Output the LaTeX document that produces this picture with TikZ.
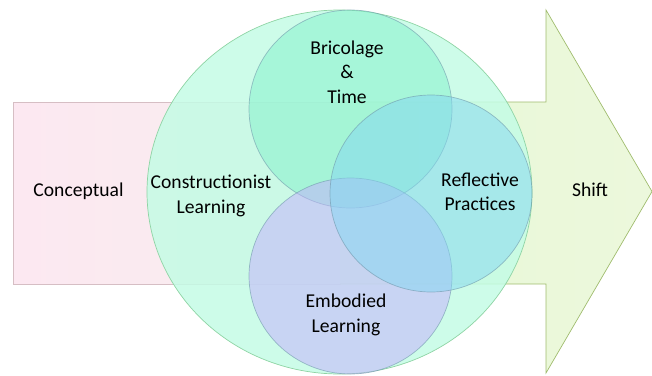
\documentclass[tikz,border=0pt]{standalone}
\usepackage{fontspec}
\setmainfont{Carlito}
\begin{document}
\definecolor{pinkL}{RGB}{252,232,241}
\definecolor{pinkR}{RGB}{247,238,238}
\definecolor{pinkEdge}{RGB}{214,190,196}
\definecolor{greenL}{RGB}{232,248,214}
\definecolor{greenR}{RGB}{236,248,220}
\definecolor{greenEdge}{RGB}{160,188,110}
\definecolor{bigFill}{RGB}{196,252,229}
\definecolor{bigEdge}{RGB}{142,212,164}
\definecolor{bricFill}{RGB}{128,240,202}
\definecolor{reflFill}{RGB}{132,214,242}
\definecolor{embFill}{RGB}{196,174,254}
\definecolor{ringEdge}{RGB}{110,150,170}
\begin{tikzpicture}[x=1pt,y=-1pt,
  lbl/.style={font=\fontsize{19.6}{24.5}\selectfont, align=center, text=black, inner sep=0pt},
  ring/.style={draw=ringEdge, draw opacity=0.6, line width=0.7pt, fill opacity=0.5}]
\useasboundingbox (0,0) rectangle (652,375);
% left band and right arrow
\shade[left color=pinkL, right color=pinkR, draw=pinkEdge, line width=0.7pt]
  (13,102) rectangle (340,284);
\shade[left color=greenL, right color=greenR, draw=greenEdge, line width=0.7pt]
  (340,102) -- (546,102) -- (546,10) -- (652,191.5) -- (546,373) -- (546,284) -- (340,284);
% outer circle
\fill[bigFill, fill opacity=0.85] (339.5,192) ellipse [x radius=192.5, y radius=182];
\draw[bigEdge, line width=0.7pt] (339.5,192) ellipse [x radius=192.5, y radius=182];
% three overlapping circles
\path[ring, fill=bricFill] (350.5,109) ellipse [x radius=101.5, y radius=99];
\path[ring, fill=embFill] (350.5,276) ellipse [x radius=101.5, y radius=98];
\path[ring, fill=reflFill] (431,193.5) ellipse [x radius=101, y radius=98.5];
% labels
\node[lbl] (conc) at (78.5,191) {Conceptual};
\node[lbl] (shift) at (590,190) {Shift};
\node[lbl] (cons) at (211,196) {Constructionist\\Learning};
\node[lbl] (bric) at (347,72) {Bricolage\\\&\\Time};
\node[lbl] (refl) at (480,192) {Reflective\\Practices};
\node[lbl] (emb) at (346,315) {Embodied\\Learning};
\end{tikzpicture}
\end{document}
